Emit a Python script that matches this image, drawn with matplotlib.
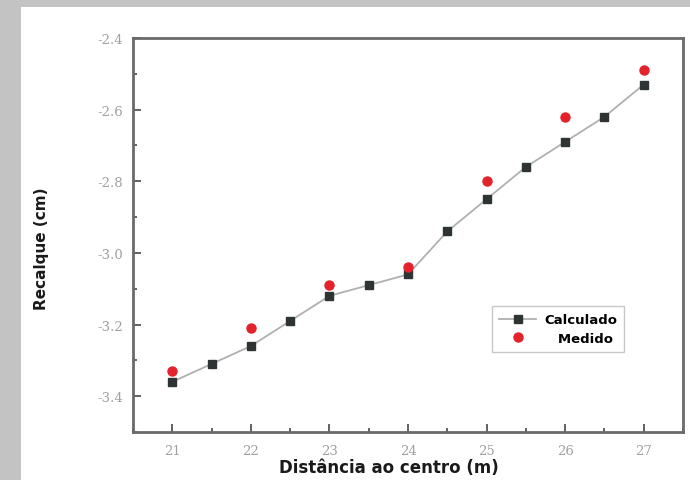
import numpy as np
import matplotlib
matplotlib.use('Agg')
import matplotlib.pyplot as plt
from matplotlib.patches import Rectangle
from matplotlib.ticker import MultipleLocator, FormatStrFormatter

# values
dist_calc = [21, 21.5, 22, 22.5, 23, 23.5, 24, 24.5, 25, 25.5, 26, 26.5, 27]
recalque_calc = [-3.36, -3.31, -3.26, -3.19, -3.12, -3.09, -3.06, -2.94, -2.85, -2.76, -2.69, -2.62, -2.53]
dist_med = [21, 22, 23, 24, 25, 26, 27]
recalque_med = [-3.33, -3.21, -3.09, -3.04, -2.80, -2.62, -2.49]

W, H = 690, 481
fig = plt.figure(figsize=(W/100, H/100), dpi=100)
fig.patch.set_facecolor('#c3c3c3')
# white page area, grey scan border on the left and top
fig.add_artist(Rectangle((21/W, 0), 1, 1 - 8/H, transform=fig.transFigure,
                         facecolor='white', edgecolor='none', zorder=-1))

ax = fig.add_axes([133/W, 1 - 433/H, 550/W, 394/H])

ax.plot(dist_calc, recalque_calc, color='#b0b0b0', lw=1.3, marker='s', ms=6,
        mfc='#2e3333', mec='#2e3333', label='Calculado', zorder=3)
ax.plot(dist_med, recalque_med, ls='none', marker='o', ms=6.5,
        mfc='#e3222c', mec='#e3222c', label='   Medido', zorder=4)

ax.set_xlim(20.5, 27.5)
ax.set_ylim(-3.5, -2.4)
ax.xaxis.set_major_locator(MultipleLocator(1))
ax.xaxis.set_minor_locator(MultipleLocator(0.5))
ax.yaxis.set_major_locator(MultipleLocator(0.2))
ax.yaxis.set_minor_locator(MultipleLocator(0.1))
ax.yaxis.set_major_formatter(FormatStrFormatter('%.1f'))

ax.tick_params(which='both', direction='in', top=False, right=False,
               color='#555555', width=1.3)
ax.tick_params(which='major', length=6)
ax.tick_params(which='minor', length=3)
ax.tick_params(axis='x', which='major', pad=9)
ax.tick_params(axis='y', which='major', pad=7)
for lab in ax.get_xticklabels() + ax.get_yticklabels():
    lab.set_fontfamily('DejaVu Serif')
    lab.set_fontsize(9.5)
    lab.set_color('#a0a0a0')

for s in ax.spines.values():
    s.set_color('#6a6a6a')
    s.set_linewidth(2.0)

ax.set_xlabel('Distância ao centro (m)', fontsize=12, fontweight='bold', color='#1a1a1a')
ax.xaxis.set_label_coords(0.4645, -0.066)
ax.set_ylabel('Recalque (cm)', fontsize=11, fontweight='bold', color='#1a1a1a')
ax.yaxis.set_label_coords(-0.153, 0.467)

leg = ax.legend(loc='upper left', bbox_to_anchor=((492 - 133)/550, (433 - 307)/394),
                borderaxespad=0, frameon=True, fancybox=False, borderpad=0.55,
                handlelength=2.8, handletextpad=0.6, labelspacing=0.4,
                prop={'weight': 'bold', 'size': 9.5})
leg.get_frame().set_edgecolor('#bbbbbb')
leg.get_frame().set_linewidth(1.0)

fig.savefig('out.png', dpi=100, facecolor=fig.get_facecolor())
